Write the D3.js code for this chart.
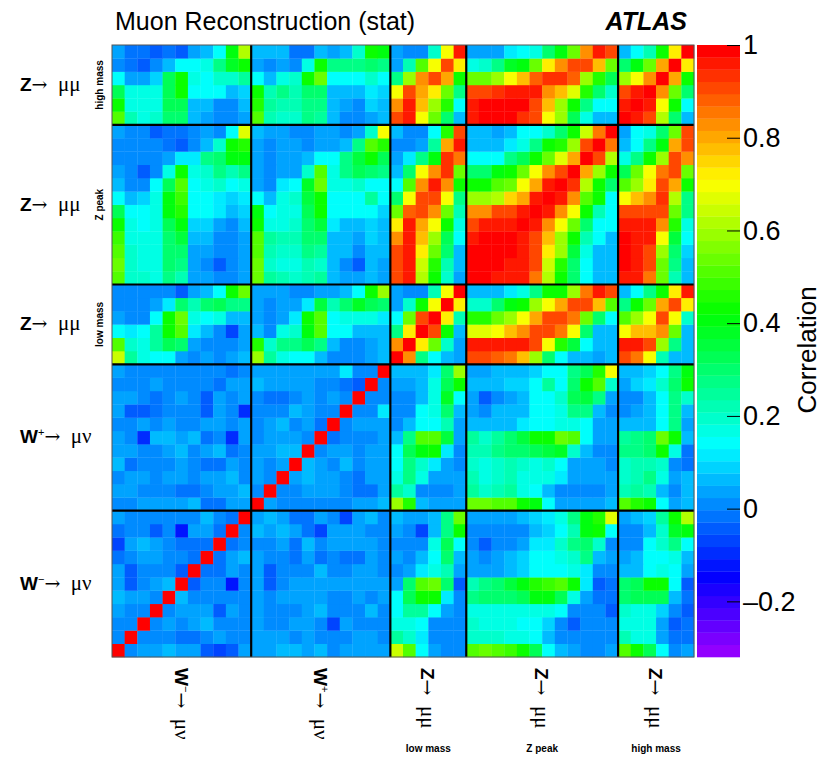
<!DOCTYPE html>
<html>
<head>
<meta charset="utf-8">
<script src="https://cdn.jsdelivr.net/npm/d3@7"></script>
<style>
  body { margin: 0; background: #fff; }
  svg { display: block; }
</style>
</head>
<body>
<div id="container"></div>
<script>

// bin groups, left to right on x and bottom to top on y
const groupNames = ["W-", "W+", "Zlow", "Zpeak", "Zhigh"];
const groupBins = [11, 11, 6, 12, 6];

// Z rows, read top to bottom, full width (W-, W+, Z low, Z peak, Z high columns)
const zHighRows = [
  [0.03,-0.02,-0.02,-0.05,-0.02,-0.05,0.03,0.05,0.13,0.4,0.62, 0.05,0.05,0.05,-0.01,-0.01,0.05,0.04,0.05,0.2,0.42,0.4, 0.04,0.0,0.0,0.2,0.7,0.97, 0.04,0.04,0.04,0.12,0.14,0.18,0.3,0.4,0.55,0.83,0.95,0.92, 0.05,0.13,0.22,0.42,0.72,1.0],
  [0.0,-0.01,-0.04,0.02,0.05,0.15,0.13,0.17,0.28,0.38,0.42, 0.03,0.01,0.04,0.0,0.16,0.42,0.28,0.28,0.28,0.3,0.27, 0.04,0.22,0.5,0.7,0.9,0.72, 0.18,0.2,0.27,0.38,0.4,0.55,0.72,0.82,0.9,0.9,0.78,0.55, 0.3,0.4,0.55,0.8,1.0,0.72],
  [0.13,0.03,0.03,0.1,0.32,0.42,0.16,0.13,0.2,0.2,0.25, 0.13,0.05,0.17,0.2,0.42,0.55,0.13,0.13,0.15,0.2,0.15, 0.28,0.6,0.83,0.9,0.8,0.42, 0.55,0.55,0.58,0.7,0.78,0.88,0.93,0.93,0.88,0.6,0.45,0.33, 0.6,0.7,0.82,1.0,0.8,0.42],
  [0.33,0.16,0.16,0.18,0.32,0.42,0.14,0.13,0.13,0.05,0.1, 0.42,0.22,0.27,0.22,0.3,0.3,0.06,0.05,0.05,0.12,0.1, 0.7,0.9,0.8,0.72,0.55,0.28, 0.92,0.92,0.94,0.95,0.97,0.95,0.83,0.78,0.68,0.45,0.3,0.2, 0.92,0.95,1.0,0.82,0.55,0.3],
  [0.42,0.17,0.17,0.18,0.33,0.33,0.05,0.05,0.02,0.02,0.05, 0.45,0.25,0.22,0.22,0.28,0.28,0.05,0.04,0.02,0.1,0.05, 0.83,0.95,0.78,0.6,0.45,0.13, 0.95,0.98,0.98,0.98,0.98,0.92,0.78,0.6,0.42,0.28,0.13,0.13, 0.97,1.0,0.95,0.7,0.42,0.14],
  [0.52,0.22,0.17,0.2,0.3,0.3,0.05,0.04,0.0,0.0,0.03, 0.5,0.22,0.2,0.2,0.27,0.25,0.05,0.02,0.0,0.04,0.05, 0.9,0.95,0.7,0.55,0.3,0.06, 0.97,0.98,0.98,0.98,0.93,0.9,0.7,0.6,0.33,0.17,0.06,0.06, 1.0,0.97,0.9,0.62,0.3,0.06]
];

const zPeakRows = [
  [0.04,0.0,0.0,-0.04,-0.01,-0.01,0.0,0.03,0.0,0.13,0.68, 0.05,0.03,0.03,0.0,0.0,0.04,0.04,0.01,0.03,0.2,0.7, 0.05,0.0,0.0,0.13,0.45,0.92, 0.05,0.05,0.04,0.06,0.13,0.15,0.2,0.3,0.42,0.65,0.85,1.0, 0.04,0.13,0.18,0.3,0.55,0.9],
  [0.0,0.0,0.0,0.0,-0.01,-0.05,0.02,0.05,0.2,0.42,0.45, 0.04,0.02,0.04,0.03,0.0,0.04,0.04,0.06,0.27,0.5,0.45, 0.01,0.01,0.04,0.25,0.8,0.97, 0.05,0.05,0.05,0.12,0.17,0.28,0.42,0.45,0.6,0.9,1.0,0.85, 0.05,0.13,0.28,0.4,0.8,0.92],
  [0.0,0.0,0.0,0.01,0.04,0.12,0.12,0.27,0.3,0.4,0.4, 0.04,0.02,0.04,0.03,0.05,0.13,0.13,0.28,0.35,0.42,0.33, 0.04,0.12,0.28,0.4,0.93,0.85, 0.13,0.13,0.15,0.27,0.33,0.42,0.55,0.68,0.8,1.0,0.92,0.62, 0.16,0.28,0.42,0.6,0.9,0.82],
  [0.03,0.0,-0.05,0.02,0.17,0.42,0.16,0.2,0.28,0.22,0.27, 0.04,0.0,0.04,0.03,0.2,0.5,0.17,0.28,0.33,0.3,0.28, 0.05,0.3,0.7,0.82,0.93,0.55, 0.3,0.3,0.4,0.42,0.55,0.7,0.82,0.92,1.0,0.8,0.6,0.42, 0.33,0.55,0.7,0.85,0.9,0.55],
  [0.05,0.0,0.0,0.13,0.32,0.5,0.14,0.16,0.2,0.13,0.16, 0.04,0.0,0.12,0.13,0.38,0.55,0.16,0.18,0.2,0.15,0.15, 0.14,0.5,0.82,0.95,0.82,0.42, 0.42,0.42,0.5,0.55,0.7,0.8,0.95,1.0,0.93,0.62,0.42,0.3, 0.5,0.6,0.72,0.9,0.8,0.42],
  [0.13,0.05,0.1,0.17,0.4,0.48,0.13,0.13,0.12,0.08,0.12, 0.13,0.05,0.16,0.2,0.35,0.42,0.14,0.13,0.13,0.25,0.15, 0.3,0.7,0.92,0.9,0.7,0.27, 0.6,0.6,0.62,0.75,0.8,0.95,1.0,0.97,0.82,0.5,0.42,0.15, 0.7,0.78,0.82,0.93,0.62,0.28],
  [0.32,0.14,0.13,0.17,0.4,0.45,0.13,0.13,0.12,0.05,0.1, 0.4,0.14,0.16,0.17,0.33,0.42,0.13,0.13,0.13,0.15,0.08, 0.55,0.88,0.9,0.83,0.55,0.22, 0.82,0.82,0.9,0.92,0.97,1.0,0.97,0.83,0.7,0.42,0.22,0.13, 0.9,0.9,0.92,0.9,0.55,0.27],
  [0.42,0.16,0.14,0.17,0.33,0.4,0.08,0.08,0.04,0.02,0.05, 0.42,0.16,0.17,0.2,0.3,0.35,0.12,0.05,0.05,0.1,0.06, 0.72,0.95,0.8,0.7,0.42,0.17, 0.92,0.95,0.95,0.97,1.0,0.97,0.82,0.7,0.55,0.3,0.14,0.13, 0.95,0.95,0.95,0.82,0.45,0.17],
  [0.48,0.18,0.16,0.16,0.3,0.35,0.05,0.05,0.02,0.0,0.03, 0.5,0.25,0.22,0.22,0.3,0.3,0.07,0.05,0.04,0.08,0.05, 0.82,0.97,0.78,0.6,0.33,0.13, 0.97,0.98,0.98,1.0,0.97,0.9,0.78,0.6,0.42,0.22,0.13,0.06, 0.98,0.97,0.95,0.7,0.35,0.13],
  [0.5,0.2,0.17,0.16,0.3,0.3,0.04,0.04,0.0,0.0,0.03, 0.5,0.22,0.2,0.2,0.27,0.25,0.05,0.05,0.0,0.05,0.05, 0.9,0.97,0.72,0.55,0.3,0.07, 0.98,0.98,1.0,0.98,0.95,0.9,0.72,0.58,0.35,0.18,0.06,0.05, 0.98,0.97,0.92,0.6,0.3,0.08],
  [0.55,0.2,0.17,0.17,0.3,0.28,0.03,0.02,-0.03,0.0,0.03, 0.55,0.2,0.18,0.18,0.22,0.2,0.05,0.0,-0.03,0.05,0.04, 0.9,0.97,0.65,0.45,0.22,0.05, 0.98,1.0,0.98,0.97,0.95,0.9,0.65,0.45,0.3,0.13,0.05,0.05, 0.98,0.95,0.9,0.55,0.27,0.06],
  [0.5,0.2,0.2,0.18,0.28,0.22,0.04,0.03,0.0,0.01,0.04, 0.55,0.25,0.22,0.2,0.22,0.25,0.06,0.04,0.03,0.05,0.04, 0.9,0.97,0.62,0.42,0.2,0.04, 1.0,0.98,0.97,0.97,0.95,0.85,0.62,0.42,0.3,0.13,0.05,0.05, 0.97,0.95,0.85,0.55,0.22,0.05]
];

const zLowRows = [
  [0.01,0.01,0.01,0.0,0.0,-0.03,0.03,0.05,0.14,0.42,0.55, 0.04,0.03,0.04,0.0,0.0,0.03,0.03,0.05,0.14,0.42,0.6, 0.04,0.01,0.01,0.22,0.7,1.0, 0.05,0.05,0.05,0.12,0.16,0.28,0.42,0.42,0.58,0.85,0.97,0.92, 0.05,0.13,0.27,0.42,0.72,0.95],
  [0.01,0.01,0.01,0.04,0.12,0.3,0.22,0.3,0.32,0.27,0.27, 0.04,0.02,0.04,0.04,0.12,0.35,0.22,0.3,0.38,0.32,0.3, 0.04,0.2,0.42,0.7,1.0,0.72, 0.2,0.2,0.3,0.4,0.42,0.58,0.7,0.8,0.9,0.9,0.78,0.52, 0.28,0.42,0.55,0.8,0.9,0.72],
  [0.04,0.02,0.02,0.13,0.42,0.55,0.17,0.13,0.16,0.05,0.05, 0.04,0.02,0.04,0.12,0.42,0.5,0.14,0.17,0.17,0.16,0.12, 0.13,0.55,0.9,1.0,0.72,0.22, 0.45,0.45,0.55,0.58,0.7,0.8,0.92,0.92,0.85,0.55,0.3,0.13, 0.52,0.58,0.7,0.9,0.7,0.2],
  [0.13,0.12,0.13,0.25,0.42,0.5,0.12,0.05,0.02,-0.07,0.04, 0.06,0.02,0.16,0.2,0.4,0.5,0.13,0.13,0.06,0.05,0.05, 0.28,0.72,1.0,0.9,0.42,0.05, 0.68,0.68,0.7,0.78,0.82,0.9,0.9,0.85,0.7,0.3,0.05,0.05, 0.7,0.78,0.78,0.82,0.55,0.05],
  [0.5,0.2,0.18,0.25,0.33,0.3,0.04,0.02,0.0,0.02,0.04, 0.45,0.2,0.27,0.27,0.33,0.27,0.05,0.02,0.02,0.04,0.05, 0.82,1.0,0.72,0.55,0.2,0.04, 0.97,0.97,0.97,0.97,0.95,0.9,0.7,0.45,0.35,0.13,0.05,0.05, 0.97,0.95,0.9,0.6,0.28,0.05],
  [0.65,0.25,0.16,0.14,0.14,0.04,0.02,0.03,0.0,0.03,0.05, 0.58,0.25,0.16,0.13,0.14,0.05,0.02,0.02,0.02,0.04,0.05, 1.0,0.82,0.28,0.13,0.05,0.04, 0.9,0.9,0.88,0.85,0.78,0.6,0.3,0.13,0.06,0.05,0.04,0.05, 0.9,0.85,0.7,0.22,0.06,0.05]
];

// W rows, top to bottom, W- and W+ columns only (Z columns come from symmetry)
const wPlusRows = [
  [0.03,0.01,0.0,0.0,0.01,0.01,0.0,0.0,0.0,-0.01,0.0, 0.04,0.04,0.03,0.03,0.04,0.04,0.04,0.12,0.01,0.01,1],
  [0.01,0.01,0.01,0.04,0.01,0.02,0.02,0.02,-0.02,0.03,0.04, 0.05,0.04,0.04,0.04,0.04,0.01,0.01,-0.02,-0.03,1,0.01],
  [0.03,0.04,0.01,-0.02,0.01,0.03,0.01,-0.03,0.03,0.0,0.04, 0.01,-0.01,-0.02,0.01,0.03,0.01,0.04,0.01,1,0.01,0.02],
  [0.04,-0.03,-0.03,-0.02,0.01,0.0,0.0,-0.03,0.03,0.02,-0.1, 0.0,0.0,0.0,0.06,0.03,0.01,0.0,1,0.01,0.01,0.12],
  [0.01,0.01,0.04,0.0,0.04,0.01,0.0,0.03,0.03,0.0,0.03, 0.01,0.03,0.05,0.01,0.03,-0.02,1,0.0,0.04,0.04,0.04],
  [0.03,0.01,-0.1,0.05,0.05,0.04,0.06,-0.02,0.0,-0.1,0.03, 0.01,0.03,0.03,0.04,0.0,1,-0.02,0.01,0.01,0.01,0.04],
  [0.04,0.04,0.01,0.01,0.04,0.06,0.01,0.03,0.06,-0.02,0.0, 0.03,0.04,0.05,0.05,1,0.0,0.03,0.03,0.01,0.04,0.04],
  [0.05,-0.02,0.0,0.0,0.01,0.04,0.01,-0.02,-0.02,0.04,0.0, 0.03,0.01,0.04,1,0.05,0.04,0.01,0.06,0.01,0.04,0.03],
  [0.01,0.03,0.04,0.01,0.04,0.03,0.01,0.04,0.04,0.06,0.0, 0.04,0.01,1,0.04,0.05,0.03,0.03,0.0,-0.01,0.04,0.03],
  [0.03,0.04,0.01,0.01,0.01,-0.02,-0.02,0.01,0.04,0.04,0.05, 0.01,1,0.01,0.01,0.04,0.03,0.03,0.0,-0.01,-0.01,0.04],
  [0.01,0.01,0.04,0.04,0.04,0.03,0.05,-0.02,-0.02,0.03,0.04, 1,0.04,0.01,0.01,0.01,0.0,0.01,0.0,0.04,0.03,0.05]
];

const wMinusRows = [
  [0.04,0.01,0.01,0.01,0.01,0.01,0.01,0.05,0.0,-0.02,1, 0.03,0.05,0.03,-0.01,-0.01,0.03,0.0,-0.08,0.03,0.05,0.0],
  [-0.02,0.0,0.0,-0.03,0.0,-0.12,0.03,0.03,-0.02,1,0.0, 0.05,0.03,0.05,0.03,-0.02,-0.08,0.04,0.04,0.03,0.01,0.0],
  [-0.08,0.03,0.05,0.03,0.0,-0.01,-0.01,-0.02,1,-0.02,0.01, 0.01,0.01,0.03,-0.02,0.05,0.0,0.03,0.03,0.03,0.03,0.01],
  [-0.02,0.02,0.03,0.03,0.0,0.0,-0.02,1,-0.01,0.04,0.06, 0.04,0.01,0.01,-0.02,0.03,-0.02,0.0,-0.01,-0.01,0.03,0.0],
  [0.03,-0.03,0.0,0.0,0.0,-0.03,1,-0.02,-0.02,0.04,0.01, 0.03,-0.03,0.01,0.01,0.01,0.05,0.01,0.01,0.03,0.03,0.01],
  [0.03,-0.03,0.0,0.03,0.05,1,-0.03,0.0,0.0,-0.12,0.01, 0.03,-0.03,0.01,0.03,0.04,0.03,0.03,0.03,0.03,0.03,0.03],
  [0.05,0.03,0.03,0.0,1,0.06,0.01,0.01,0.0,0.01,0.01, 0.04,0.01,0.03,0.03,0.03,0.04,0.01,0.01,0.03,0.01,0.03],
  [0.03,0.01,0.01,1,0.0,0.04,0.03,0.04,-0.03,0.03,0.01, 0.03,0.01,0.01,0.01,0.03,0.06,0.01,0.0,0.01,0.05,0.0],
  [0.0,0.0,1,0.01,0.04,0.01,0.03,0.06,0.01,0.01,0.01, 0.04,0.01,0.0,0.03,0.04,0.01,-0.08,0.03,0.01,0.01,0.0],
  [0.0,1,0.01,0.01,0.02,-0.02,-0.02,0.0,0.04,0.01,0.01, 0.04,0.03,0.04,0.01,0.04,0.01,0.01,0.0,0.04,0.04,0.0],
  [1,0.01,0.03,0.04,0.05,0.04,0.03,-0.03,-0.08,-0.03,0.04, 0.04,0.03,0.05,0.06,0.04,0.05,0.01,0.04,0.04,0.04,0.04]
];

// colour axis
const zMin = -0.32, zMax = 1;
const colorTicks = [-0.2, 0, 0.2, 0.4, 0.6, 0.8, 1];

// build the full matrix, M[i][j] with i = y bin (from bottom), j = x bin (from left)
const nBins = d3.sum(groupBins);
const nW = groupBins[0] + groupBins[1];
const M = d3.range(nBins).map(() => new Array(nBins).fill(0));
[...zHighRows, ...zPeakRows, ...zLowRows].forEach((r, k) => {
  const i = nBins - 1 - k;
  r.forEach((v, j) => M[i][j] = v);
});
[...wPlusRows, ...wMinusRows].forEach((r, k) => {
  const i = nW - 1 - k;
  r.forEach((v, j) => M[i][j] = v);
  for (let j = nW; j < nBins; j++) M[i][j] = M[j][i];
});
const cells = [];
M.forEach((r, i) => r.forEach((v, j) => cells.push({i, j, v})));

// ROOT "pretty" palette: 50 hues from violet to red
const palette = d3.range(50).map(k => k == 49 ? "rgb(255,0,0)" : d3.hsl(280 - (k + 1) * 5.6, 1, 0.5).formatRgb());
const color = d3.scaleQuantize().domain([zMin, zMax]).range(palette);

const W = 821, H = 757;
const plot = {left: 112, right: 694, top: 45, bottom: 657};
const sans = "'Liberation Sans', Arial, Helvetica, sans-serif";
const serif = "'DejaVu Serif', 'Liberation Serif', serif";

const svg = d3.select("#container")
  .append("svg")
    .attr("width", W)
    .attr("height", H)
    .style("font-family", sans);

const x = d3.scaleLinear().domain([0, nBins]).range([plot.left, plot.right]);
const y = d3.scaleLinear().domain([0, nBins]).range([plot.bottom, plot.top]);

svg.append("g")
  .selectAll("rect")
  .data(cells)
  .join("rect")
    .attr("x", d => x(d.j))
    .attr("y", d => y(d.i + 1))
    .attr("width", d => x(d.j + 1) - x(d.j) + 0.3)
    .attr("height", d => y(d.i) - y(d.i + 1) + 0.3)
    .attr("fill", d => color(d.v));

// block separators
const edges = d3.cumsum(groupBins).slice(0, -1);
const sep = svg.append("g").attr("stroke", "#000").attr("stroke-width", 2.2);
sep.selectAll(".vx").data(edges).join("line")
  .attr("x1", d => x(d)).attr("x2", d => x(d))
  .attr("y1", plot.top).attr("y2", plot.bottom);
sep.selectAll(".hy").data(edges).join("line")
  .attr("y1", d => y(d)).attr("y2", d => y(d))
  .attr("x1", plot.left).attr("x2", plot.right);

svg.append("rect")
  .attr("x", plot.left).attr("y", plot.top)
  .attr("width", plot.right - plot.left).attr("height", plot.bottom - plot.top)
  .attr("fill", "none").attr("stroke", "#555").attr("stroke-width", 1);

// colour bar
const bar = {left: 697, right: 740};
const cy = d3.scaleLinear().domain([zMin, zMax]).range([plot.bottom, plot.top]);
const step = (zMax - zMin) / palette.length;
svg.append("g")
  .selectAll("rect")
  .data(palette)
  .join("rect")
    .attr("x", bar.left)
    .attr("y", (d, k) => cy(zMin + (k + 1) * step))
    .attr("width", bar.right - bar.left)
    .attr("height", (d, k) => cy(zMin + k * step) - cy(zMin + (k + 1) * step) + 0.3)
    .attr("fill", d => d);

const cax = svg.append("g")
  .attr("transform", `translate(${bar.right},0)`)
  .call(d3.axisRight(cy)
    .tickValues(colorTicks)
    .tickSize(-13)
    .tickPadding(3)
    .tickFormat(d => d < 0 ? "\u2013" + Math.abs(d) : String(d)));
cax.select(".domain").remove();
cax.selectAll("text")
  .attr("font-size", 27)
  .attr("font-family", sans)
  .attr("fill", "#000");
cax.selectAll("line").attr("stroke", "#000");

svg.append("text")
  .attr("transform", "translate(816,350) rotate(-90)")
  .attr("text-anchor", "middle")
  .attr("font-size", 26)
  .text("Correlation");

// title
svg.append("text")
  .attr("x", 115).attr("y", 30)
  .attr("font-size", 25)
  .text("Muon Reconstruction (stat)");
svg.append("text")
  .attr("x", 687).attr("y", 30)
  .attr("text-anchor", "end")
  .attr("font-size", 25)
  .attr("font-weight", "bold")
  .attr("font-style", "italic")
  .text("ATLAS");

// axis labels for each group
const labels = [
  {boson: "W", sup: "\u2212", decay: "\u03bc\u03bd", sub: ""},
  {boson: "W", sup: "+", decay: "\u03bc\u03bd", sub: ""},
  {boson: "Z", sup: "", decay: "\u03bc\u03bc", sub: "low mass"},
  {boson: "Z", sup: "", decay: "\u03bc\u03bc", sub: "Z peak"},
  {boson: "Z", sup: "", decay: "\u03bc\u03bc", sub: "high mass"}
];
const starts = [0, ...edges];
const centres = starts.map((s, g) => s + groupBins[g] / 2);

function writeLabel(t, d) {
  t.append("tspan")
    .attr("font-weight", "bold")
    .attr("font-family", sans)
    .text(d.boson);
  if (d.sup) {
    t.append("tspan")
      .attr("font-size", 11)
      .attr("dy", -7)
      .attr("font-family", sans)
      .text(d.sup);
  }
  t.append("tspan")
    .attr("dy", d.sup ? 7 : 0)
    .attr("font-family", serif)
    .attr("font-size", 19)
    .text("\u2192");
  t.append("tspan")
    .attr("font-family", "'Liberation Serif', serif")
    .attr("font-size", 21)
    .text("\u00a0 " + d.decay);
}

// y side
labels.forEach((d, g) => {
  const t = svg.append("text")
    .attr("x", 20)
    .attr("y", y(centres[g]) + 6)
    .attr("font-size", 19);
  writeLabel(t, d);
  if (d.sub) {
    svg.append("text")
      .attr("transform", `translate(103,${y(centres[g])}) rotate(-90)`)
      .attr("text-anchor", "middle")
      .attr("font-size", 10)
      .attr("font-weight", "bold")
      .text(d.sub);
  }
});

// x side
labels.forEach((d, g) => {
  const t = svg.append("text")
    .attr("transform", `translate(${x(centres[g]) - 7},668) rotate(90)`)
    .attr("font-size", 19);
  writeLabel(t, d);
  if (d.sub) {
    svg.append("text")
      .attr("x", x(centres[g]))
      .attr("y", 752)
      .attr("text-anchor", "middle")
      .attr("font-size", 10)
      .attr("font-weight", "bold")
      .text(d.sub);
  }
});

</script>
</body>
</html>
